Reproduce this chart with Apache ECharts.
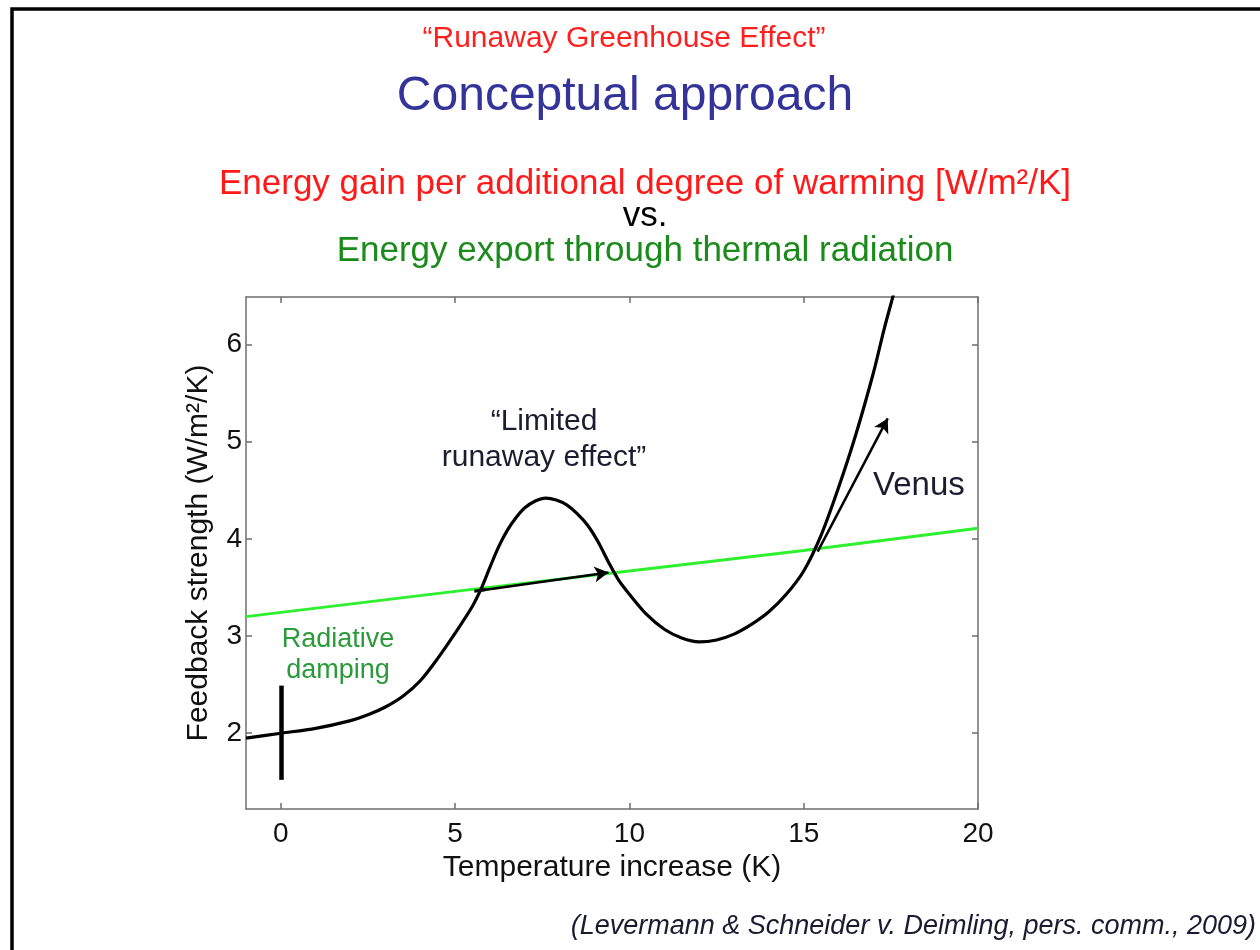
<!DOCTYPE html>
<html>
<head>
<meta charset="utf-8">
<script src="https://cdn.jsdelivr.net/npm/echarts@6/dist/echarts.min.js"></script>
<style>
html,body{margin:0;padding:0;background:#fff;}
#chart{width:1260px;height:950px;}
</style>
</head>
<body>
<div id="chart"></div>
<script>
// ---- data ----
const feedbackCurve = [
  [-1, 1.95], [0, 2.0], [1, 2.05], [2, 2.13], [2.5, 2.19], [3, 2.27], [3.5, 2.38],
  [4, 2.54], [4.5, 2.77], [5, 3.03], [5.5, 3.31], [5.75, 3.49], [6, 3.71], [6.25, 3.92],
  [6.5, 4.09], [6.75, 4.22], [7, 4.32], [7.3, 4.39], [7.6, 4.42], [7.9, 4.4], [8.2, 4.35],
  [8.5, 4.26], [8.8, 4.14], [9.1, 3.97], [9.4, 3.76], [9.7, 3.57], [10, 3.43],
  [10.5, 3.22], [11, 3.07], [11.5, 2.98], [12, 2.94], [12.5, 2.96], [13, 3.02],
  [13.5, 3.12], [14, 3.25], [14.5, 3.43], [15, 3.67], [15.5, 4.04], [16, 4.53],
  [16.5, 5.08], [17, 5.71], [17.3, 6.15], [17.6, 6.55], [17.7, 6.7]
];
const radiativeLine = [[-1, 3.2], [5, 3.46], [10, 3.67], [15, 3.88], [20, 4.11]];
const limitedArrow = [[5.72, 3.47], [9.4, 3.655]];
const venusArrow = [[15.4, 3.87], [17.41, 5.24]];
const dampingBar = [[0, 1.52], [0, 2.49]];
const xTicks = [0, 5, 10, 15, 20];
const yTicks = [2, 3, 4, 5, 6];
const xRange = [-1, 20];
const yRange = [1.22, 6.49];

const FONT = '"Liberation Sans", Arial, Helvetica, sans-serif';
const AXIS_COLOR = '#6e6e6e';

const chart = echarts.init(document.getElementById('chart'), null, {renderer: 'canvas'});

function axisCommon(extra) {
  return Object.assign({
    type: 'value',
    axisLine: {show: true, onZero: false, lineStyle: {color: AXIS_COLOR, width: 1.5}},
    splitLine: {show: false}
  }, extra);
}

const option = {
  backgroundColor: '#fff',
  animation: false,
  grid: {left: 246, top: 297, right: 282, bottom: 141, containLabel: false},
  xAxis: [
    axisCommon({
      position: 'bottom', min: xRange[0], max: xRange[1],
      name: 'Temperature increase (K)', nameLocation: 'middle', nameGap: 37,
      nameTextStyle: {fontFamily: FONT, fontSize: 30, color: '#111'},
      axisTick: {show: true, inside: true, length: 6, customValues: xTicks, lineStyle: {color: AXIS_COLOR, width: 1.5}},
      axisLabel: {show: true, customValues: xTicks, margin: 11, fontFamily: FONT, fontSize: 28, color: '#111'}
    }),
    axisCommon({
      position: 'top', min: xRange[0], max: xRange[1],
      axisTick: {show: true, inside: true, length: 6, customValues: xTicks, lineStyle: {color: AXIS_COLOR, width: 1.5}},
      axisLabel: {show: false}
    })
  ],
  yAxis: [
    axisCommon({
      position: 'left', min: yRange[0], max: yRange[1],
      name: 'Feedback strength (W/m²/K)', nameLocation: 'middle', nameGap: 32, nameRotate: 90,
      nameTextStyle: {fontFamily: FONT, fontSize: 30, color: '#111'},
      axisTick: {show: true, inside: true, length: 6, customValues: yTicks, lineStyle: {color: AXIS_COLOR, width: 1.5}},
      axisLabel: {show: true, customValues: yTicks, margin: 4, fontFamily: FONT, fontSize: 28, color: '#111'}
    }),
    axisCommon({
      position: 'right', min: yRange[0], max: yRange[1],
      axisTick: {show: true, inside: true, length: 6, customValues: yTicks, lineStyle: {color: AXIS_COLOR, width: 1.5}},
      axisLabel: {show: false}
    })
  ],
  series: [
    {
      name: 'radiative', type: 'line', data: radiativeLine, smooth: false,
      showSymbol: false, symbol: 'none', clip: true, z: 2,
      lineStyle: {color: '#2ef02e', width: 3}
    },
    {
      name: 'feedback', type: 'line', data: feedbackCurve, smooth: 0.3,
      showSymbol: false, symbol: 'none', clip: true, z: 3,
      lineStyle: {color: '#000', width: 3.2},
      markLine: {
        silent: true, animation: false, z: 5,
        label: {show: false},
        lineStyle: {color: '#000', width: 2.5, type: 'solid'},
        data: [
          [
            {coord: limitedArrow[0], symbol: 'rect', symbolSize: [3, 12]},
            {coord: limitedArrow[1], symbol: 'arrow', symbolSize: [12, 14]}
          ],
          [
            {coord: venusArrow[0], symbol: 'none'},
            {coord: venusArrow[1], symbol: 'arrow', symbolSize: [12, 14]}
          ],
          [
            {coord: dampingBar[0], symbol: 'none', lineStyle: {width: 4.5}},
            {coord: dampingBar[1], symbol: 'none'}
          ]
        ]
      }
    }
  ],
  graphic: [
    {type: 'rect', z: 100, silent: true,
     shape: {x: 12, y: 9, width: 1400, height: 1100},
     style: {fill: 'none', stroke: '#000', lineWidth: 3.5}},
    {type: 'text', x: 624, y: 39, style: {text: '“Runaway Greenhouse Effect”', fill: '#ff1f1f', font: '30px ' + FONT, align: 'center', verticalAlign: 'middle'}},
    {type: 'text', x: 625, y: 97, style: {text: 'Conceptual approach', fill: '#333399', font: '48px ' + FONT, align: 'center', verticalAlign: 'middle'}},
    {type: 'text', x: 645, y: 184, style: {text: 'Energy gain per additional degree of warming [W/m²/K]', fill: '#ff1a1a', font: '35px ' + FONT, align: 'center', verticalAlign: 'middle'}},
    {type: 'text', x: 645, y: 216, style: {text: 'vs.', fill: '#000', font: '35px ' + FONT, align: 'center', verticalAlign: 'middle'}},
    {type: 'text', x: 645, y: 251, style: {text: 'Energy export through thermal radiation', fill: '#1a8a1a', font: '35px ' + FONT, align: 'center', verticalAlign: 'middle'}},
    {type: 'text', x: 544, y: 422, style: {text: '“Limited', fill: '#1c1c30', font: '30px ' + FONT, align: 'center', verticalAlign: 'middle'}},
    {type: 'text', x: 544, y: 458, style: {text: 'runaway effect”', fill: '#1c1c30', font: '30px ' + FONT, align: 'center', verticalAlign: 'middle'}},
    {type: 'text', x: 873, y: 486, style: {text: 'Venus', fill: '#1c1c30', font: '33px ' + FONT, align: 'left', verticalAlign: 'middle'}},
    {type: 'text', x: 338, y: 640, style: {text: 'Radiative', fill: '#2a9a3a', font: '27px ' + FONT, align: 'center', verticalAlign: 'middle'}},
    {type: 'text', x: 338, y: 671, style: {text: 'damping', fill: '#2a9a3a', font: '27px ' + FONT, align: 'center', verticalAlign: 'middle'}},
    {type: 'text', x: 1256, y: 926, style: {text: '(Levermann & Schneider v. Deimling, pers. comm., 2009)', fill: '#1a1a30', font: 'italic 27px ' + FONT, align: 'right', verticalAlign: 'middle'}}
  ]
};
chart.setOption(option);
</script>
</body>
</html>
